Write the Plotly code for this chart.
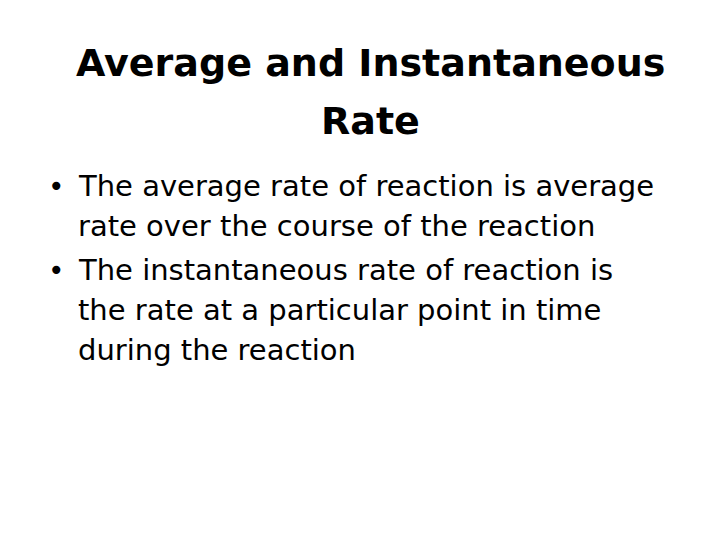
import plotly.graph_objects as go

title_lines = ["Average and Instantaneous", "Rate"]
bullets = [
    ["The average rate of reaction is average", "rate over the course of the reaction"],
    ["The instantaneous rate of reaction is", "the rate at a particular point in time", "during the reaction"],
]

fig = go.Figure()
font_family = "Comic Sans MS, DejaVu Sans, sans-serif"

# title
for i, line in enumerate(title_lines):
    fig.add_annotation(x=362, y=55 + i * 58, text="<b>" + line + "</b>",
                       xref="x", yref="y", showarrow=False,
                       font=dict(family=font_family, size=38, color="black"),
                       xanchor="center", yanchor="middle")

# bullets
ys = [178, 218, 262, 302, 342]
k = 0
for para in bullets:
    fig.add_annotation(x=38, y=ys[k], text="•", xref="x", yref="y", showarrow=False,
                       font=dict(family=font_family, size=28, color="black"),
                       xanchor="left", yanchor="middle")
    for line in para:
        fig.add_annotation(x=68, y=ys[k], text=line, xref="x", yref="y", showarrow=False,
                           font=dict(family=font_family, size=29, color="black"),
                           xanchor="left", yanchor="middle")
        k += 1

fig.update_xaxes(range=[0, 720], visible=False)
fig.update_yaxes(range=[540, 0], visible=False)
fig.update_layout(width=720, height=540, margin=dict(l=0, r=0, t=0, b=0),
                  plot_bgcolor="white", paper_bgcolor="white", showlegend=False)

fig.write_html("out.html")
